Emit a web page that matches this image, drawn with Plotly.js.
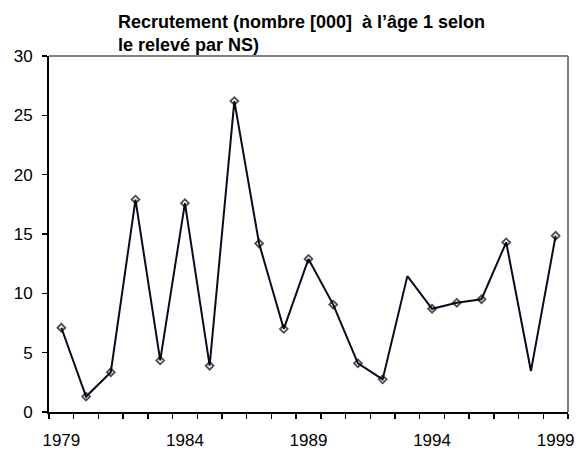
<!DOCTYPE html>
<html>
<head>
<meta charset="utf-8">
<script src="https://cdn.plot.ly/plotly-3.0.1.min.js"></script>
<style>html,body{margin:0;padding:0;background:#fff;}#chart{width:579px;height:450px;}</style>
</head>
<body>
<div id="chart"></div>
<script>
const years = [1979,1980,1981,1982,1983,1984,1985,1986,1987,1988,1989,1990,1991,1992,1993,1994,1995,1996,1997,1998,1999];
const recruitment = [7.1,1.3,3.35,17.9,4.35,17.6,3.9,26.2,14.2,7.0,12.9,9.05,4.1,2.75,11.45,8.7,9.2,9.5,14.3,3.45,14.85];
const yearsWithoutMarker = [1993,1998];
const xTickLabels = ['1979','1984','1989','1994','1999'];
const yTickValues = [0,5,10,15,20,25,30];
const titleText = 'Recrutement (nombre [000]  à l’âge 1 selon<br>le relevé par NS)';

const markerSizes = years.map(y => yearsWithoutMarker.includes(y) ? 0 : 6);

const trace = {
  x: years,
  y: recruitment,
  type: 'scatter',
  mode: 'lines+markers',
  line: {color: '#0a0a1e', width: 2},
  marker: {symbol: 'diamond-open', size: markerSizes, color: '#000', line: {width: 1.8, color: '#000'}},
  hoverinfo: 'x+y'
};

const font = 'Liberation Sans, Arial, sans-serif';
const layout = {
  width: 579, height: 450,
  margin: {l: 49, r: 11, t: 56, b: 38},
  paper_bgcolor: '#fff', plot_bgcolor: '#fff',
  showlegend: false,
  title: {
    text: titleText,
    font: {family: font, size: 18, color: '#000', weight: 'bold'},
    x: 118/579, xanchor: 'left', xref: 'container',
    y: 1 + 26/356, yanchor: 'bottom', yref: 'paper',
    pad: {b: 0}
  },
  xaxis: {
    type: 'linear',
    range: [1978.5, 1999.5],
    tickvals: xTickLabels.map(Number),
    ticktext: xTickLabels,
    ticks: 'outside', ticklen: 12, tickcolor: 'rgba(0,0,0,0)',
    minor: {tick0: 1978.5, dtick: 1, ticks: 'outside', ticklen: 5, tickwidth: 1.5, tickcolor: '#000'},
    showgrid: false, zeroline: false,
    showline: true, linecolor: '#000', linewidth: 2,
    tickfont: {family: font, size: 17, color: '#000'}
  },
  yaxis: {
    range: [0, 30],
    tickvals: yTickValues,
    ticks: 'outside', ticklen: 5, tickwidth: 1.5, tickcolor: '#000',
    ticklabelstandoff: 6,
    showgrid: false, zeroline: false,
    showline: true, linecolor: '#000', linewidth: 2,
    tickfont: {family: font, size: 17, color: '#000'}
  },
  shapes: [
    {type: 'line', xref: 'paper', yref: 'paper', x0: 0, x1: 1, y0: 1, y1: 1, line: {color: '#808080', width: 2}},
    {type: 'line', xref: 'paper', yref: 'paper', x0: 1, x1: 1, y0: 0, y1: 1, line: {color: '#808080', width: 2}}
  ]
};

Plotly.newPlot('chart', [trace], layout, {displayModeBar: false, staticPlot: true});
</script>
</body>
</html>
